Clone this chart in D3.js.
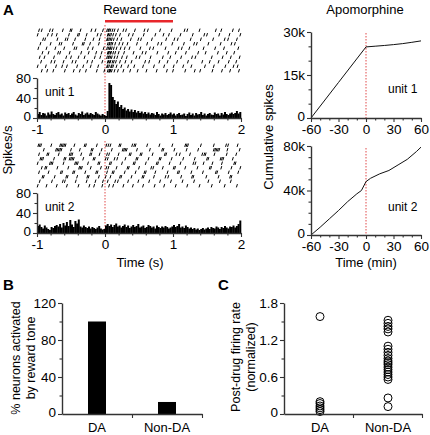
<!DOCTYPE html>
<html><head><meta charset="utf-8">
<script src="https://cdn.jsdelivr.net/npm/d3@7"></script>
<style>body{margin:0;background:#fff}svg{display:block}</style>
</head><body><svg id="c" width="430" height="435"></svg>
<script>
// ---------- DATA ----------
// raster spike times (units of 0.01 s), one array per trial
const raster1 = [
 [-97,-93,-81,-77,-62,-51,-49,-36,-20,-14,-3,3,5,6,8,11,14,19,27,31,44,58,63,81,98,117,121,139,163,171,188,197],
 [-99,-84,-78,-71,-53,-40,-38,-27,-11,-6,4,5,7,9,12,16,22,35,41,57,74,86,94,111,129,146,150,168,183,199],
 [-91,-88,-70,-58,-55,-44,-29,-17,-8,3,4,6,8,10,13,18,24,38,49,53,69,90,102,107,126,141,159,176,181,194],
 [-95,-80,-67,-64,-47,-33,-31,-22,-9,4,6,7,9,11,15,21,26,33,47,62,78,83,99,116,131,135,152,170,186,191],
 [-98,-86,-73,-60,-45,-42,-25,-18,-2,3,5,7,8,10,13,17,23,29,36,52,66,71,89,108,113,124,145,162,175,196],
 [-92,-83,-69,-66,-52,-35,-24,-13,-5,4,5,6,8,9,12,15,20,28,42,55,60,77,93,104,119,137,148,166,179,190],
 [-96,-89,-75,-57,-50,-39,-30,-15,-7,3,5,6,8,10,14,18,25,32,46,51,67,85,96,112,128,133,157,173,185,198],
 [-94,-79,-74,-61,-48,-43,-26,-19,-4,4,5,7,8,11,13,16,22,30,39,59,65,80,92,106,122,143,154,167,182,193],
 [-99,-87,-72,-63,-56,-41,-32,-21,-10,3,4,6,9,10,12,17,24,34,43,56,72,87,101,115,127,147,160,177,189,195],
 [-93,-85,-76,-59,-46,-37,-28,-12,-1,4,6,7,8,10,14,19,27,37,48,61,76,91,100,118,132,140,158,172,184,197]
];
const raster2 = [
 [-98,-96,-94,-79,-66,-64,-62,-60,-58,-45,-30,-28,-12,2,5,8,21,23,40,43,45,62,80,99,118,120,122,141,160,178,181,195],
 [-90,-72,-70,-68,-66,-64,-50,-37,-20,-18,-5,10,26,28,30,32,47,66,84,86,102,120,137,160,162,164,166,168,180,198],
 [-97,-85,-83,-68,-52,-50,-48,-35,-22,-20,-8,3,6,20,36,38,52,54,70,88,90,105,110,125,143,146,148,161,179,193],
 [-95,-93,-91,-75,-60,-58,-52,-50,-48,-46,-32,-17,-15,1,4,14,18,30,46,48,64,80,82,98,115,132,150,152,170,172,174,188],
 [-99,-81,-79,-77,-61,-44,-42,-40,-25,-10,-8,7,9,25,42,44,60,76,78,95,111,130,133,145,158,172,190,192],
 [-93,-88,-86,-70,-54,-38,-36,-34,-21,-6,2,5,17,33,35,50,68,71,85,101,103,118,136,154,156,171,186,199],
 [-97,-83,-65,-63,-47,-45,-29,-13,-11,3,11,13,29,45,58,60,74,92,107,109,127,144,163,165,182,196],
 [-92,-90,-74,-57,-55,-41,-26,-24,-9,1,8,22,24,39,55,57,72,89,93,112,128,130,149,167,184,186],
 [-96,-78,-62,-59,-43,-27,-14,-3,4,15,19,34,49,65,81,97,114,131,152,169,185],
 [-99,-86,-71,-56,-39,-23,-16,-4,6,12,27,41,56,73,87,104,121,139,157,176,194]
];
// PSTH, 25 ms bins from -1 s to 2 s (spikes/s)
const hist1 = [8,12,6,10,9,5,11,7,13,8,6,10,12,7,9,5,11,8,10,6,9,12,7,5,10,8,13,6,9,11,7,10,8,6,12,9,7,5,8,6,
 4,14,70,66,42,36,28,33,22,26,18,21,15,18,13,17,12,16,11,14,
 10,13,9,12,8,11,7,10,9,6,12,8,5,9,7,10,6,8,11,7,
 9,5,8,10,6,7,9,4,8,11,6,9,5,10,7,8,12,6,9,5,8,10,7,6,11,8,9,5,10,7,12,8,6,9,11,8,10,14,9,12];
const hist2 = [14,17,12,9,15,11,8,6,12,10,14,16,13,18,11,20,15,22,14,26,17,12,24,19,27,13,11,15,12,10,13,9,12,10,8,11,14,9,7,8,
 15,18,14,17,12,16,19,13,15,11,14,17,12,15,10,13,16,12,14,18,11,13,15,10,12,16,14,11,13,9,15,12,10,13,11,14,12,9,11,13,
 16,12,14,18,11,13,10,15,12,9,11,8,10,7,9,6,8,10,7,9,11,8,12,10,9,13,11,8,12,10,14,11,9,13,12,15,11,14,18,25];
const binWidth = 0.025;
// cumulative spikes vs time (min)
const cumTime1 = [-60,-30,0,10,20,30,40,50,60];
const cumVal1  = [0,12400,24800,25050,25300,25600,25950,26400,26900];
const cumTime2 = [-60,-50,-40,-30,-20,-10,-5,0,5,15,25,35,45,55,60];
const cumVal2  = [0,7000,14500,22000,30000,37000,40000,48000,51000,55000,58000,63000,68000,75000,79000];
// panel B
const bCats = ["DA","Non-DA"];
const bVals = [100,13];
// panel C
const cDA = [1.58,0.2,0.17,0.13,0.1,0.07,0.04];
const cNonDA = [1.52,1.47,1.42,1.38,1.33,1.1,1.05,1.0,0.95,0.9,0.86,0.83,0.8,0.76,0.72,0.68,0.64,0.6,0.56,0.26,0.12];
const histTicks = [-1,0,1,2];
const histMinor = [-0.8,-0.6,-0.4,-0.2,0.2,0.4,0.6,0.8,1.2,1.4,1.6,1.8];

// ---------- DRAW ----------
const svg = d3.select("#c");
const FONT = "'Liberation Sans', Arial, Helvetica, sans-serif";
const AX = "#333";
const TFS = 13.5;
const fmt = d => String(d);

function styleAxis(g, fs) {
  g.select(".domain").attr("stroke", AX).attr("stroke-width", 1.4);
  g.selectAll(".tick line").attr("stroke", AX).attr("stroke-width", 1.1);
  g.selectAll(".tick text").attr("fill", "#000").style("font-family", FONT).style("font-size", (fs||TFS) + "px");
}
function leftAxis(scale, x, majors, minors, f) {
  if (minors && minors.length) {
    const gm = svg.append("g").attr("transform", `translate(${x},0)`)
      .call(d3.axisLeft(scale).tickValues(minors).tickSize(2.5).tickSizeOuter(0).tickFormat(""));
    styleAxis(gm); gm.select(".domain").remove();
  }
  const g = svg.append("g").attr("transform", `translate(${x},0)`)
    .call(d3.axisLeft(scale).tickValues(majors).tickSize(4).tickSizeOuter(0).tickPadding(2).tickFormat(f || fmt));
  styleAxis(g);
  g.selectAll(".tick text").filter(d => d === 0).attr("dy", "0.15em");
  return g;
}
function bottomAxis(scale, y, majors, minors, f) {
  if (minors && minors.length) {
    const gm = svg.append("g").attr("transform", `translate(0,${y})`)
      .call(d3.axisBottom(scale).tickValues(minors).tickSize(2.5).tickSizeOuter(0).tickFormat(""));
    styleAxis(gm); gm.select(".domain").remove();
  }
  const g = svg.append("g").attr("transform", `translate(0,${y})`)
    .call(d3.axisBottom(scale).tickValues(majors).tickSize(4).tickSizeOuter(0).tickPadding(2).tickFormat(f || fmt));
  styleAxis(g);
  return g;
}
function text(x, y, s, opts) {
  opts = opts || {};
  const t = svg.append("text").attr("x", x).attr("y", y).text(s)
    .style("font-family", FONT).style("font-size", (opts.size || 13) + "px")
    .attr("text-anchor", opts.anchor || "start").attr("fill", opts.fill || "#000");
  if (opts.bold) t.style("font-weight", "bold");
  if (opts.rotate) t.attr("transform", `rotate(-90,${x},${y})`);
  return t;
}
function redDotted(x, y1, y2) {
  svg.append("line").attr("x1", x).attr("x2", x).attr("y1", y1).attr("y2", y2)
    .attr("stroke", "#e04848").attr("stroke-width", 1).attr("stroke-dasharray", "1.5,1.5");
}

// --- Panel A left ---
const xh = d3.scaleLinear().domain([-1, 2]).range([37, 241]);

function drawRaster(data, top, bottom) {
  const n = data.length;
  const ry = d3.scaleBand().domain(d3.range(n)).range([top, bottom]);
  const g = svg.append("g");
  data.forEach((row, i) => {
    g.selectAll(null).data(row).enter().append("line")
      .attr("x1", d => xh(d / 100) + 0.5).attr("x2", d => xh(d / 100) - 0.5)
      .attr("y1", ry(i) + 0.6).attr("y2", ry(i) + ry.bandwidth() - 0.6)
      .attr("stroke", "#000").attr("stroke-width", 1);
  });
}
function drawHist(vals, yScale) {
  svg.append("g").selectAll("rect").data(vals).enter().append("rect")
    .attr("x", (d, i) => xh(-1 + i * binWidth))
    .attr("width", xh(binWidth) - xh(0) + 0.3)
    .attr("y", d => yScale(d))
    .attr("height", d => yScale(0) - yScale(d))
    .attr("fill", "#000");
}

// unit 1
const yh1 = d3.scaleLinear().domain([0, 80]).range([118, 78]);
redDotted(xh(0), 25, 118);
drawRaster(raster1, 28, 73);
drawHist(hist1, yh1);
leftAxis(yh1, 37, [0, 40, 80], [20, 60]);
bottomAxis(xh, 118, histTicks, histMinor);
text(45, 96, "unit 1", {size: 12});

// unit 2
const yh2 = d3.scaleLinear().domain([0, 80]).range([233, 193]);
redDotted(xh(0), 141, 233);
drawRaster(raster2, 143, 188);
drawHist(hist2, yh2);
leftAxis(yh2, 37, [0, 40, 80], [20, 60]);
bottomAxis(xh, 233, histTicks, histMinor);
text(45, 211, "unit 2", {size: 12});

text(12, 150, "Spikes/s", {rotate: true, anchor: "middle"});
text(140, 267, "Time (s)", {anchor: "middle"});

// reward tone bar
svg.append("rect").attr("x", xh(0)).attr("width", xh(1) - xh(0)).attr("y", 20).attr("height", 2.5).attr("fill", "#e8262b");
text(140, 14, "Reward tone", {anchor: "middle"});
text(3, 15, "A", {size: 15, bold: true});

// --- Panel A right ---
const xr = d3.scaleLinear().domain([-60, 60]).range([311, 421]);
const yr1 = d3.scaleLinear().domain([0, 30000]).range([118, 32]);
const yr2 = d3.scaleLinear().domain([0, 80000]).range([235, 146]);
const kfmt = d => d === 0 ? "0" : (d / 1000) + "k";
const minMinor = [-50, -40, -20, -10, 10, 20, 40, 50];

redDotted(xr(0), 33, 118);
svg.append("path").datum(cumTime1.map((t, i) => [t, cumVal1[i]]))
  .attr("d", d3.line().x(d => xr(d[0])).y(d => yr1(d[1])))
  .attr("fill", "none").attr("stroke", "#111").attr("stroke-width", 1);
leftAxis(yr1, 311, [0, 15000, 30000], [5000, 10000, 20000, 25000], kfmt);
bottomAxis(xr, 118, [-60, -30, 0, 30, 60], minMinor);
text(388, 93, "unit 1", {size: 12});

redDotted(xr(0), 148, 235);
svg.append("path").datum(cumTime2.map((t, i) => [t, cumVal2[i]]))
  .attr("d", d3.line().x(d => xr(d[0])).y(d => yr2(d[1])))
  .attr("fill", "none").attr("stroke", "#111").attr("stroke-width", 1);
leftAxis(yr2, 311, [0, 40000, 80000], [10000, 20000, 30000, 50000, 60000, 70000], kfmt);
bottomAxis(xr, 235, [-60, -30, 0, 30, 60], minMinor);
text(388, 211, "unit 2", {size: 12});

text(273, 137, "Cumulative spikes", {rotate: true, anchor: "middle"});
text(366, 267, "Time (min)", {anchor: "middle"});
text(365, 14, "Apomorphine", {anchor: "middle"});

// --- Panel B ---
text(3, 290, "B", {size: 15, bold: true});
const yb = d3.scaleLinear().domain([0, 120]).range([414, 303]);
const xb = d3.scalePoint().domain(bCats).range([97, 167]);
svg.append("g").selectAll("rect").data(bVals).enter().append("rect")
  .attr("x", (d, i) => xb(bCats[i]) - 9).attr("width", 18)
  .attr("y", d => yb(d)).attr("height", d => yb(0) - yb(d)).attr("fill", "#000");
leftAxis(yb, 62, [0, 40, 80, 120], [20, 60, 100]);
{
  const xbAxis = d3.scaleLinear().domain([0, 1]).range([62, 202]);
  const g = svg.append("g").attr("transform", "translate(0,414)")
    .call(d3.axisBottom(xbAxis).tickValues([0.5, 1]).tickSize(4).tickSizeOuter(0).tickFormat(""));
  styleAxis(g);
}
bCats.forEach(c => text(xb(c), 432, c, {anchor: "middle"}));
text(20, 358, "% neurons activated", {rotate: true, anchor: "middle", size: 12.5});
text(35, 358, "by reward tone", {rotate: true, anchor: "middle", size: 12.5});

// --- Panel C ---
text(218, 290, "C", {size: 15, bold: true});
const yc = d3.scaleLinear().domain([0, 1.8]).range([414, 303]);
const xc = d3.scalePoint().domain(bCats).range([320, 388]);
const pts = cDA.map(v => ["DA", v]).concat(cNonDA.map(v => ["Non-DA", v]));
svg.append("g").selectAll("circle").data(pts).enter().append("circle")
  .attr("cx", d => xc(d[0])).attr("cy", d => yc(d[1])).attr("r", 4)
  .attr("fill", "none").attr("stroke", "#000").attr("stroke-width", 1);
leftAxis(yc, 284, [0, 0.6, 1.2, 1.8], [0.3, 0.9, 1.5], d => d === 0 ? "0" : d3.format(".1f")(d));
{
  const xcAxis = d3.scaleLinear().domain([0, 1]).range([284, 422]);
  const g = svg.append("g").attr("transform", "translate(0,414)")
    .call(d3.axisBottom(xcAxis).tickValues([0.5, 1]).tickSize(4).tickSizeOuter(0).tickFormat(""));
  styleAxis(g);
}
bCats.forEach(c => text(xc(c), 432, c, {anchor: "middle"}));
text(240, 357, "Post-drug firing rate", {rotate: true, anchor: "middle", size: 12.5});
text(255, 357, "(normalized)", {rotate: true, anchor: "middle", size: 12.5});
</script></body></html>
